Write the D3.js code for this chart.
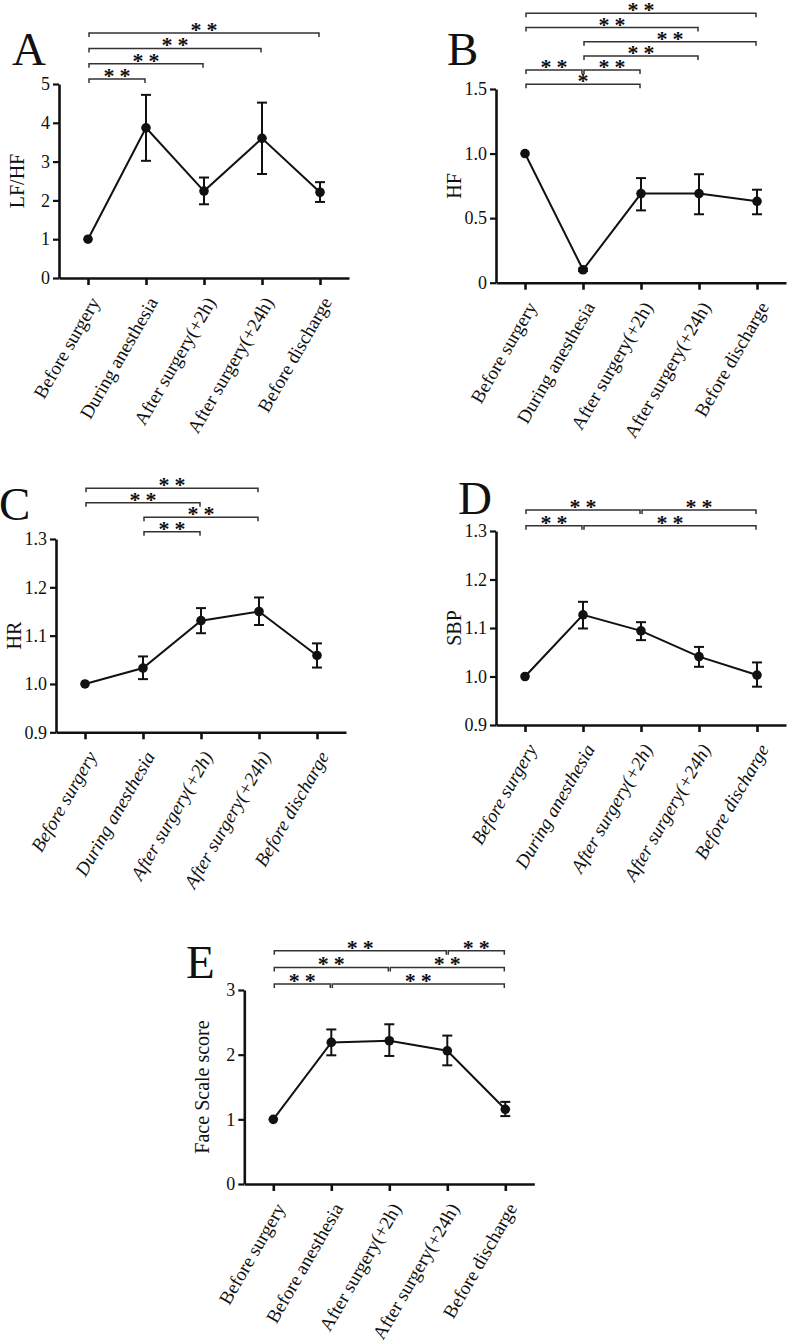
<!DOCTYPE html>
<html>
<head>
<meta charset="utf-8">
<script src="https://cdn.jsdelivr.net/npm/d3@7"></script>
<style>
  body { margin: 0; background: #fff; }
  text { font-family: "Liberation Serif", "Times New Roman", serif; fill: #111; }
</style>
</head>
<body>
<svg id="fig" width="787" height="1341"></svg>
<script>
// categories
const catsMain = ["Before surgery", "During anesthesia", "After surgery(+2h)", "After surgery(+24h)", "Before discharge"];
const catsE = ["Before surgery", "Before anesthesia", "After surgery(+2h)", "After surgery(+24h)", "Before discharge"];

// A: LF/HF
const meanA = [1, 3.87, 2.24, 3.60, 2.21];
const loA   = [1, 3.02, 1.90, 2.68, 1.96];
const hiA   = [1, 4.72, 2.59, 4.52, 2.47];
const ticksA = [0, 1, 2, 3, 4, 5];
const tickLabA = ["0", "1", "2", "3", "4", "5"];
// [from, to, label, row]
const sigA = [[0, 1, "**", 0], [0, 2, "**", 1], [0, 3, "**", 2], [0, 4, "**", 3]];

// B: HF
const meanB = [1, 0.10, 0.69, 0.69, 0.63];
const loB   = [1, 0.09, 0.56, 0.53, 0.53];
const hiB   = [1, 0.11, 0.81, 0.84, 0.72];
const ticksB = [0, 0.5, 1.0, 1.5];
const tickLabB = ["0", "0.5", "1.0", "1.5"];
const sigB = [[0, 2, "*", 0], [0, 1, "**", 1], [1, 2, "**", 1], [1, 3, "**", 2], [1, 4, "**", 3], [0, 3, "**", 4], [0, 4, "**", 5]];

// C: HR
const meanC = [1, 1.033, 1.131, 1.150, 1.059];
const loC   = [1, 1.010, 1.105, 1.122, 1.034];
const hiC   = [1, 1.057, 1.157, 1.179, 1.084];
const ticksC = [0.9, 1.0, 1.1, 1.2, 1.3];
const tickLabC = ["0.9", "1.0", "1.1", "1.2", "1.3"];
const sigC = [[1, 2, "**", 0], [1, 3, "**", 1], [0, 2, "**", 2], [0, 3, "**", 3]];

// D: SBP
const meanD = [1, 1.127, 1.094, 1.041, 1.003];
const loD   = [1, 1.099, 1.075, 1.020, 0.979];
const hiD   = [1, 1.154, 1.112, 1.061, 1.029];
const ticksD = [0.9, 1.0, 1.1, 1.2, 1.3];
const tickLabD = ["0.9", "1.0", "1.1", "1.2", "1.3"];
const sigD = [[0, 1, "**", 0], [1, 4, "**", 0], [0, 2, "**", 1], [2, 4, "**", 1]];

// E: Face Scale score
const meanE = [1, 2.19, 2.215, 2.06, 1.155];
const loE   = [1, 1.99, 1.98, 1.835, 1.05];
const hiE   = [1, 2.39, 2.47, 2.295, 1.27];
const ticksE = [0, 1, 2, 3];
const tickLabE = ["0", "1", "2", "3"];
const sigE = [[0, 1, "**", 0], [1, 4, "**", 0], [0, 2, "**", 1], [2, 4, "**", 1], [0, 3, "**", 2], [3, 4, "**", 2]];

const svg = d3.select("#fig");

// layout of the five panels
const panels = [
  { letter: "A", title: "LF/HF", cats: catsMain, mean: meanA, lo: loA, hi: hiA, ticks: ticksA, tickLab: tickLabA, sig: sigA,
    x0: 59, top: 84, bottom: 278, sigBase: 79, sigStep: 15.3, lx: 12, ly: 65, italic: false },
  { letter: "B", title: "HF", cats: catsMain, mean: meanB, lo: loB, hi: hiB, ticks: ticksB, tickLab: tickLabB, sig: sigB,
    x0: 496, top: 89, bottom: 282.7, sigBase: 84.3, sigStep: 14.2, lx: 447, ly: 65, italic: false },
  { letter: "C", title: "HR", cats: catsMain, mean: meanC, lo: loC, hi: hiC, ticks: ticksC, tickLab: tickLabC, sig: sigC,
    x0: 56, top: 539, bottom: 732.3, sigBase: 531.7, sigStep: 14.5, lx: -1, ly: 520, italic: true },
  { letter: "D", title: "SBP", cats: catsMain, mean: meanD, lo: loD, hi: hiD, ticks: ticksD, tickLab: tickLabD, sig: sigD,
    x0: 496, top: 531, bottom: 725, sigBase: 525.7, sigStep: 15.7, lx: 458, ly: 514, italic: true },
  { letter: "E", title: "Face Scale score", cats: catsE, mean: meanE, lo: loE, hi: hiE, ticks: ticksE, tickLab: tickLabE, sig: sigE,
    x0: 244.3, top: 990, bottom: 1184, sigBase: 984, sigStep: 16.6, lx: 186, ly: 978, italic: false }
];

panels.forEach(drawPanel);

function drawPanel(p) {
  const g = svg.append("g");
  const x = d3.scalePoint().domain(p.cats).range([p.x0, p.x0 + 290]).padding(0.5);
  const y = d3.scaleLinear().domain([p.ticks[0], p.ticks[p.ticks.length - 1]]).range([p.bottom, p.top]);

  // y axis
  const ya = g.append("g")
    .attr("transform", `translate(${p.x0},0)`)
    .call(d3.axisLeft(y).tickValues(p.ticks).tickSize(6).tickSizeOuter(0).tickPadding(3)
      .tickFormat((d, i) => p.tickLab[i]));
  ya.attr("font-family", null);
  ya.select(".domain").attr("stroke", "#111").attr("stroke-width", 2.6);
  ya.selectAll(".tick line").attr("stroke", "#111").attr("stroke-width", 2.2);
  ya.selectAll(".tick text").style("font-size", "18px").attr("fill", "#111");

  // x axis
  const xa = g.append("g")
    .attr("transform", `translate(0,${p.bottom})`)
    .call(d3.axisBottom(x).tickSize(7).tickSizeOuter(0));
  xa.attr("font-family", null);
  xa.select(".domain").attr("stroke", "#111").attr("stroke-width", 2.6);
  xa.selectAll(".tick line").attr("stroke", "#111").attr("stroke-width", 2.6);
  xa.selectAll(".tick text")
    .attr("x", 0).attr("y", 0).attr("dy", 0)
    .attr("text-anchor", "end")
    .attr("transform", "translate(12,24) rotate(-60)")
    .style("font-size", "19px")
    .style("font-style", p.italic ? "italic" : "normal")
    .attr("fill", "#111");

  // y title
  g.append("text")
    .attr("text-anchor", "middle")
    .attr("transform", `translate(${p.x0 - 35},${(p.top + p.bottom) / 2}) rotate(-90)`)
    .style("font-size", "20px")
    .text(p.title);

  // panel letter
  g.append("text")
    .attr("x", p.lx).attr("y", p.ly)
    .style("font-size", "47px")
    .text(p.letter);

  // data line
  const pts = p.cats.map((c, i) => ({ c, m: p.mean[i], lo: p.lo[i], hi: p.hi[i] }));
  g.append("path")
    .datum(pts)
    .attr("fill", "none")
    .attr("stroke", "#111")
    .attr("stroke-width", 2)
    .attr("d", d3.line().x(d => x(d.c)).y(d => y(d.m)));

  // error bars
  const eb = g.append("g").attr("stroke", "#111").attr("stroke-width", 2);
  pts.filter(d => d.hi > d.lo).forEach(d => {
    const cx = x(d.c);
    eb.append("line").attr("x1", cx).attr("x2", cx).attr("y1", y(d.lo)).attr("y2", y(d.hi));
    eb.append("line").attr("x1", cx - 5).attr("x2", cx + 5).attr("y1", y(d.lo)).attr("y2", y(d.lo));
    eb.append("line").attr("x1", cx - 5).attr("x2", cx + 5).attr("y1", y(d.hi)).attr("y2", y(d.hi));
  });

  g.selectAll("circle.pt")
    .data(pts)
    .join("circle")
    .attr("class", "pt")
    .attr("cx", d => x(d.c))
    .attr("cy", d => y(d.m))
    .attr("r", 4.8)
    .attr("fill", "#111");

  // significance brackets
  const sg = g.append("g");
  p.sig.forEach(([a, b, lab, row]) => {
    const x1 = x(p.cats[a]) + 1, x2 = x(p.cats[b]) - 1;
    const yb = p.sigBase - row * p.sigStep;
    sg.append("path")
      .attr("d", `M${x1},${yb + 4}V${yb}H${x2}V${yb + 4}`)
      .attr("fill", "none")
      .attr("stroke", "#333")
      .attr("stroke-width", 1.5);
    const mid = (x1 + x2) / 2;
    const offs = lab.length === 2 ? [-8, 8] : [0];
    offs.forEach(o => {
      sg.append("text")
        .attr("x", mid + o)
        .attr("y", yb + 4)
        .attr("text-anchor", "middle")
        .style("font-size", "22px")
        .style("font-weight", "bold")
        .text("*");
    });
  });
}
</script>
</body>
</html>
